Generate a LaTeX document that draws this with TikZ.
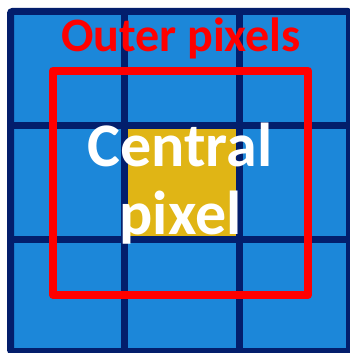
\documentclass[tikz,border=0pt]{standalone}
\usepackage{fontspec}
\setmainfont{Carlito}
\definecolor{cellblue}{RGB}{28,135,217}
\definecolor{navy}{RGB}{3,30,108}
\definecolor{gold}{RGB}{224,181,21}
\definecolor{pred}{RGB}{255,0,0}
\tikzset{
  gridline/.style={draw=navy,line width=7pt},
  redframe/.style={draw=pred,line width=8pt,line join=round},
  outerlabel/.style={text=pred,font=\bfseries\fontsize{48}{56}\selectfont,anchor=base,inner sep=0pt},
  centrallabel/.style={text=white,font=\bfseries\fontsize{62}{70}\selectfont,anchor=base,inner sep=0pt},
}
\begin{document}
\begin{tikzpicture}[x=1pt,y=-1pt]
\useasboundingbox (0,0) rectangle (349,353);
\fill[white] (0,0) rectangle (349,353);
% cells
\fill[cellblue] (10.5,11.5) rectangle (349.5,351.5);
\fill[gold] (124.5,125.5) rectangle (239,239);
% grid
\draw[gridline] (124.5,11.5) -- (124.5,351.5);
\draw[gridline] (239,11.5) -- (239,351.5);
\draw[gridline] (10.5,125.5) -- (349.5,125.5);
\draw[gridline] (10.5,239) -- (349.5,239);
\draw[gridline,rounded corners=2pt] (10.5,11.5) rectangle (349.5,351.5);
% red frame
\draw[redframe] (53,70.5) rectangle (308,295);
% labels
\node[outerlabel] (outer) at (181,52) {Outer pixels};
\node[centrallabel] (central1) at (180,166) {Central};
\node[centrallabel] (central2) at (180.5,234) {pixel};
\end{tikzpicture}
\end{document}
